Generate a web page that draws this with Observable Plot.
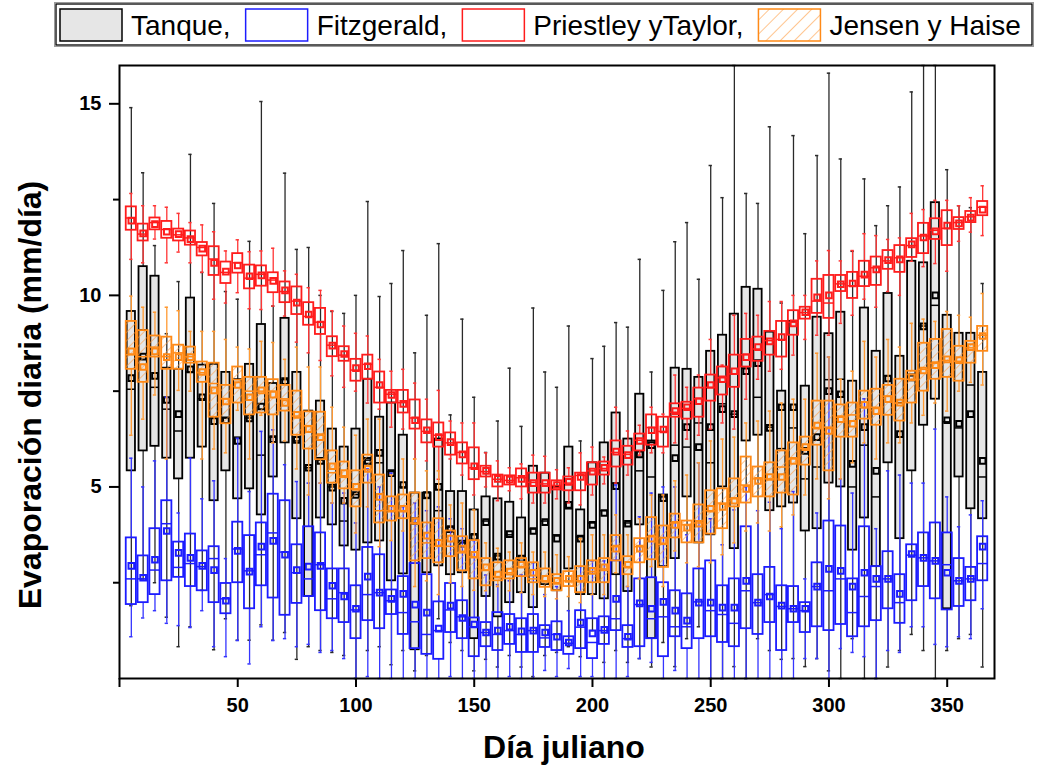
<!DOCTYPE html>
<html>
<head>
<meta charset="utf-8">
<script src="https://cdn.jsdelivr.net/npm/d3@7"></script>
<script src="https://cdn.jsdelivr.net/npm/@observablehq/plot@0.6"></script>
<style>
  body { margin: 0; background: #fff; }
</style>
</head>
<body>
<div id="chart"></div>
<script>
// Julian day of each group (one box per series every 5 days)
const days = [5,10,15,20,25,30,35,40,45,50,55,60,65,70,75,80,85,90,95,100,
  105,110,115,120,125,130,135,140,145,150,155,160,165,170,175,180,185,190,195,200,
  205,210,215,220,225,230,235,240,245,250,255,260,265,270,275,280,285,290,295,300,
  305,310,315,320,325,330,335,340,345,350,355,360,365];

const legendNames = ["Tanque,", "Fitzgerald,", "Priestley yTaylor,", "Jensen y Haise"];

// Tanque (pan evaporation), mm/day
const tanqueHi = [14.9,13.2,11.3,9.0,10.36,13.68,10.6,12.4,10.1,9.9,11.41,15.06,9.72,13.19,11.2,11.25,10.0,9.58,9.53,10.0,
  12.45,9.97,10.31,11.17,8.5,9.48,11.35,6.88,9.38,7.34,5.9,6.72,8.1,6.58,9.67,8.0,7.6,9.2,6.2,8.35,
  8.67,9.29,9.17,10.94,8.0,10.13,11.4,11.9,10.42,13.39,12.55,17,12.66,12.4,14.4,9.8,14.17,11.61,13.65,15.8,
  13.56,11.15,13.04,11.82,12.34,12.83,15.31,17,17,13.28,12.34,12.29,10.31];
const tanqueQ3 = [9.58,10.75,10.5,8.1,8.07,9.93,8.18,8.2,7.99,7.8,8.2,9.24,7.7,9.4,7.99,6.98,7.24,6.51,6.04,6.51,
  7.81,6.82,7.19,6.35,4.84,4.84,6.25,4.88,4.88,4.4,4.74,4.69,4.6,4.19,5.54,5.36,5.0,6.04,4.4,5.63,
  6.15,6.93,6.25,7.42,6.2,4.79,8.1,8.07,7.86,8.54,8.96,9.51,10.21,10.16,9.04,7.5,9.32,7.63,9.43,9.0,
  9.56,7.76,9.67,8.54,10.05,8.41,10.89,10.85,12.42,9.48,9.01,9.01,7.99];
const tanqueMed = [7.55,9.1,7.6,7.03,6.46,8.0,7.3,6.8,6.8,6.3,6.8,5.83,6.3,7.8,6.2,5.5,5.7,5.0,4.11,4.8,
  5.7,5.63,5.4,5.0,4.06,4.7,4.38,3.95,3.54,3.75,4.11,3.2,3.75,3.13,3.9,4.11,3.75,4.43,3.7,4.06,
  4.38,5.1,4.06,5.42,5.26,4.74,6.09,6.04,6.67,5.63,7.17,6.9,8.1,7.34,6.56,6.0,6.54,5.21,5.52,7.8,
  7.81,5.0,6.09,4.74,7.9,7.2,7.9,9.2,9.74,6.7,6.54,7.66,5.26];
const tanqueMean = [7.84,8.4,7.9,7.27,6.9,8.07,7.34,6.72,6.74,6.2,6.79,7.1,6.25,7.76,6.23,5.5,5.68,4.98,4.64,4.79,
  5.68,5.89,5.36,5.05,4.11,4.79,5.0,3.9,3.52,3.7,4.08,3.18,3.77,3.13,3.85,4.08,3.65,4.53,3.65,4.01,
  4.32,5.02,4.04,5.85,6.09,4.71,5.75,6.56,6.04,6.56,7.03,6.9,8.02,8.23,6.54,7.08,7.08,5.94,6.3,7.5,
  7.42,5.6,6.56,5.42,7.83,6.38,7.86,9.19,10.0,6.74,6.65,6.9,5.68];
const tanqueQ1 = [5.42,5.94,6.06,5.75,5.21,5.75,6.04,4.64,5.42,4.69,4.95,4.27,5.26,6.15,4.17,2.14,4.19,4.01,3.46,3.35,
  3.54,3.59,2.55,2.73,0.75,2.76,2.94,2.71,2.76,1.04,2.14,1.61,1.98,2.24,1.85,2.45,2.29,2.86,2.19,2.19,
  2.08,2.71,2.27,4.01,1.04,2.92,3.13,4.74,3.54,3.75,5.0,3.39,6.2,6.35,4.38,4.48,4.58,3.85,3.91,5.1,
  5.0,3.35,4.19,2.92,5.63,3.65,5.42,6.61,7.29,1.82,5.26,4.43,4.17];
const tanqueLo = [1.9,2.6,2.5,1.6,0.83,1.35,2.3,0.75,1.56,1.0,1.0,1.4,1.0,1.2,0.5,0.83,0.73,0.68,0.6,0.0,
  0.73,0.83,0.36,0.73,0.2,0.6,1.56,0.94,0.73,0.2,0.5,0.3,0.6,0.3,0.05,0.6,0.68,0.83,0.57,1.25,
  0.42,0.73,0.42,0.52,0.3,0.94,0.31,1.04,1.35,0.0,0.0,0.31,0.0,1.04,0.73,0.5,0.52,0.31,0.52,0.2,
  0.0,1.04,0.0,0.0,0.3,0.73,1.15,0.73,0.0,0.73,1.04,1.15,0.3];

// Fitzgerald
const fitzHi = [5.75,5.0,5.68,7.34,4.32,5.75,4.69,5.16,3.13,6.27,4.88,6.45,6.49,5.58,5.14,5.1,5.1,4.58,4.84,4.06,
  5.47,5.0,5.36,4.48,4.58,4.38,4.48,4.17,3.91,3.6,2.7,2.45,2.55,2.71,3.02,2.19,2.4,1.77,2.92,3.07,
  3.07,5.05,2.4,4.22,4.84,5.0,5.0,3.75,5.63,4.17,3.49,4.4,5.0,4.38,4.6,3.91,4.88,2.6,4.32,8.39,
  5.21,4.84,7.3,3.91,5.42,5.31,5.1,5.1,6.51,4.74,3.96,4.27,4.64];
const fitzQ3 = [3.67,3.2,3.91,4.64,3.56,3.77,3.33,3.44,2.48,4.08,3.73,4.06,4.81,4.64,3.49,3.96,3.8,2.86,2.86,2.42,
  3.42,3.23,2.31,2.66,3.0,2.71,2.0,2.48,2.03,1.58,1.46,1.72,1.67,1.56,1.67,1.38,1.48,1.09,1.77,1.56,
  1.61,3.07,1.38,2.6,2.63,2.5,2.29,2.21,2.86,3.07,2.42,2.6,3.96,2.71,2.9,2.42,2.4,1.98,3.02,4.11,
  3.98,2.6,3.96,2.92,3.31,2.71,3.49,3.8,4.06,3.8,3.13,2.9,3.7];
const fitzMed = [2.6,2.6,2.83,4.04,2.9,3.0,2.92,3.13,2.08,3.38,2.81,3.23,3.8,3.3,2.76,2.6,2.97,2.08,2.24,1.79,
  2.19,2.24,2.03,1.72,1.48,1.15,1.25,1.79,1.61,1.35,1.2,1.15,1.25,1.15,1.25,1.06,1.15,0.92,1.34,0.94,
  1.25,1.56,1.04,1.93,1.56,1.61,1.35,1.35,2.0,1.77,1.67,1.44,2.29,1.98,2.19,1.88,1.82,1.77,2.4,2.29,
  2.6,1.72,2.14,2.4,2.6,1.98,3.22,3.15,3.07,2.97,2.55,2.6,3.0];
const fitzMean = [2.94,2.63,3.1,3.85,3.28,3.15,2.94,2.83,2.03,3.33,2.79,3.44,3.59,3.23,2.83,2.92,2.94,2.42,2.14,1.82,
  2.66,2.24,2.08,2.21,1.93,1.72,1.3,1.9,1.58,1.41,1.2,1.25,1.35,1.23,1.25,1.2,1.09,0.94,1.46,1.18,
  1.27,2.08,1.09,1.96,1.82,2.0,1.77,1.51,1.98,1.98,1.85,1.85,2.55,1.98,2.14,1.9,1.82,1.82,2.4,2.86,
  2.81,2.4,2.76,2.6,2.6,2.21,3.25,3.15,3.07,2.76,2.55,2.6,3.44];
const fitzQ1 = [1.93,1.98,2.19,2.55,2.64,2.4,2.29,1.98,1.69,2.5,1.82,2.42,2.1,1.65,1.96,2.14,1.77,1.56,1.46,1.04,
  1.51,1.3,1.67,1.15,0.78,0.63,0.5,1.2,1.04,0.57,0.83,0.73,0.89,0.68,0.68,0.81,0.73,0.63,0.78,0.52,
  0.89,1.25,0.81,0.83,1.04,0.57,1.09,0.78,1.04,1.09,0.94,0.83,1.3,1.15,1.46,0.73,1.46,1.2,1.35,1.25,
  1.41,1.09,1.35,1.51,1.82,1.44,2.03,2.4,2.08,1.79,1.88,2.03,2.55];
const fitzLo = [1.09,1.58,1.77,1.44,1.38,1.33,1.77,0.83,0.57,0.99,0.38,1.35,0.99,1.04,0.83,0.89,0.68,0.73,0.52,0.0,
  0.05,0.0,0.0,0.0,0.0,0.0,0.0,0.05,0.0,0.0,0.0,0.0,0.05,0.0,0.0,0.21,0.05,0.26,0.05,0.05,
  0.0,0.0,0.05,0.52,0.42,0.0,0.21,0.0,0.0,0.0,0.0,0.0,0.0,0.0,0.0,0.0,0.0,0.52,0.52,0.0,
  0.78,0.68,0.57,0.0,0.73,0.68,1.35,1.35,0.89,0.83,1.09,1.04,1.82];

// Priestley y Taylor
const ptHi = [12.66,12.34,12.34,12.3,12.14,11.9,11.84,11.66,11.16,11.45,11.14,11.16,11.23,10.64,10.55,10.2,10.13,9.6,9.2,9.01,
  8.94,8.33,8.02,8.07,7.71,7.29,7.52,6.72,6.67,6.67,5.89,5.68,5.5,5.6,5.83,5.8,5.45,5.5,5.89,6.04,
  5.78,7.08,6.46,6.61,7.08,6.9,7.92,7.6,7.92,8.85,8.18,9.48,9.53,9.48,9.84,9.84,10.0,10.0,10.9,11.17,
  10.9,11.17,11.61,11.56,11.46,11.5,12.14,12.24,12.48,12.48,12.34,12.55,12.86];
const ptQ3 = [12.31,11.86,12.02,11.93,11.73,11.68,11.38,11.27,10.87,11.09,10.79,10.77,10.59,10.35,10.22,9.81,9.66,8.92,8.66,8.33,
  8.44,8.0,7.52,7.52,7.27,6.75,6.67,6.41,6.15,6.02,5.54,5.31,5.29,5.47,5.36,5.36,5.16,5.26,5.36,5.63,
  5.65,6.2,6.06,6.38,6.88,6.82,7.17,7.21,7.58,7.92,8.13,8.44,8.85,8.91,9.06,9.32,9.6,9.69,10.42,10.52,
  10.52,10.6,10.89,11.0,11.17,11.3,11.48,11.88,12.0,12.21,12.03,12.19,12.45];
const ptMed = [12.02,11.6,11.9,11.72,11.58,11.5,11.25,10.95,10.6,10.85,10.45,10.55,10.4,10.1,9.85,9.45,9.3,8.7,8.44,8.05,
  8.2,7.6,7.42,7.2,6.8,6.45,6.35,6.15,5.9,5.5,5.4,5.2,5.17,5.24,5.12,5.08,5.04,5.1,5.3,5.42,
  5.48,5.9,5.85,6.22,6.55,6.45,6.95,7.05,7.3,7.6,7.85,7.95,8.45,8.6,8.82,8.85,9.3,9.55,9.85,9.8,
  10.3,10.25,10.5,10.72,10.9,10.98,11.3,11.55,11.7,11.75,11.9,12.05,12.3];
const ptMean = [11.95,11.62,11.86,11.66,11.6,11.47,11.22,10.85,10.62,10.78,10.5,10.52,10.38,10.13,9.81,9.5,9.24,8.69,8.47,8.1,
  8.15,7.66,7.4,7.17,6.74,6.48,6.3,6.17,5.85,5.54,5.42,5.21,5.19,5.21,5.1,5.1,5.05,5.13,5.26,5.4,
  5.5,5.92,5.83,6.2,6.48,6.5,6.98,7.08,7.24,7.66,7.81,8.02,8.39,8.65,8.8,8.91,9.27,9.56,9.95,10.0,
  10.29,10.31,10.54,10.68,10.92,10.94,11.33,11.51,11.67,11.82,11.88,12.03,12.24];
const ptQ1 = [11.7,11.42,11.71,11.49,11.42,11.31,11.03,10.52,10.31,10.58,10.17,10.24,10.07,9.81,9.5,9.22,8.98,8.4,8.28,7.76,
  7.81,7.19,7.19,6.93,6.51,6.15,6.04,5.83,5.6,5.19,5.26,5.0,5.05,5.0,4.84,4.84,4.92,4.9,4.9,5.05,
  5.31,5.52,5.57,5.94,6.09,6.04,6.82,6.77,6.82,7.24,7.4,7.6,8.13,8.28,8.44,8.39,8.96,9.38,9.53,9.4,
  10.1,9.92,10.23,10.26,10.68,10.6,10.99,11.09,11.46,11.3,11.72,11.9,12.08];
const ptLo = [10.94,10.85,11.47,10.85,11.13,10.85,10.6,9.9,9.8,10.07,9.65,9.63,9.72,9.46,8.78,8.5,8.3,7.9,7.6,7.5,
  7.19,7.03,6.56,6.51,5.73,5.68,5.2,5.73,5.31,4.79,5.0,4.64,4.9,4.69,4.58,4.58,4.69,4.58,4.53,4.79,
  5.08,5.1,5.31,5.83,5.89,5.89,6.15,6.25,6.35,6.51,6.67,6.51,7.29,7.81,8.02,8.07,8.44,8.85,8.96,8.96,
  9.27,9.48,9.9,9.69,10.1,10.0,10.89,10.75,10.83,10.63,11.41,11.65,11.56];

// Jensen y Haise
const jhHi = [9.98,9.69,9.56,9.69,9.6,9.06,9.06,9.06,8.85,8.65,8.6,8.8,8.77,8.33,8.65,8.13,8.13,7.08,6.56,6.35,
  6.77,6.77,5.31,5.73,5.73,5.42,5.42,4.53,4.58,4.4,3.54,3.4,3.3,3.54,3.3,3.3,3.23,3.18,3.65,3.75,
  3.75,4.27,3.75,4.17,4.79,4.79,5.16,5.31,5.63,6.2,6.25,6.3,6.67,6.72,6.98,7.19,7.29,7.29,8.49,8.39,
  7.81,8.02,8.8,8.39,8.85,8.65,9.27,9.38,9.32,9.58,9.48,9.43,10.05];
const jhQ3 = [9.32,9.08,8.94,8.91,8.7,8.65,8.26,8.23,7.65,8.13,7.86,7.86,7.8,7.65,7.5,6.96,6.95,5.94,5.65,5.42,
  5.83,5.31,4.74,4.79,4.84,4.06,4.17,3.85,3.7,3.6,3.13,3.02,3.07,3.13,3.02,2.86,2.71,2.79,2.92,3.07,
  3.13,3.73,3.18,3.65,4.2,3.98,4.29,4.11,4.53,4.9,4.95,5.21,5.78,5.52,5.63,5.94,6.15,6.3,7.24,7.24,
  7.14,7.19,7.5,7.55,7.65,7.81,8.02,8.75,8.85,9.11,8.67,8.8,9.19];
const jhMed = [8.45,8.4,8.65,8.4,8.5,8.4,7.98,7.7,7.3,7.8,7.5,7.5,7.5,7.3,6.85,6.6,6.35,5.37,5.25,4.95,
  5.45,4.38,4.38,4.38,4.06,3.54,3.45,3.45,3.28,3.18,2.83,2.66,2.76,2.92,2.6,2.55,2.5,2.55,2.55,2.79,
  2.86,3.44,2.92,3.44,3.7,3.5,4.06,4.01,4.06,4.38,4.58,4.69,5.05,5.21,5.21,5.52,5.73,6.0,6.55,6.56,
  6.82,6.88,7.08,7.08,7.37,7.19,7.81,8.07,8.23,8.3,8.28,8.63,8.96];
const jhMean = [8.54,8.13,8.54,8.39,8.39,8.39,8.0,7.52,7.23,7.66,7.34,7.52,7.41,7.19,6.88,6.51,6.3,5.54,5.36,5.0,
  5.47,4.74,4.43,4.43,4.11,3.73,3.54,3.65,3.39,3.23,2.9,2.71,2.79,2.97,2.76,2.6,2.55,2.6,2.6,2.81,
  2.9,3.39,2.97,3.39,3.65,3.6,4.01,3.94,4.04,4.43,4.48,4.64,4.95,5.16,5.26,5.26,5.68,6.04,6.6,6.46,
  6.77,6.65,7.14,6.98,7.29,7.2,7.86,8.04,8.18,8.33,8.31,8.65,8.94];
const jhQ1 = [8.07,7.73,8.39,8.07,8.07,8.23,7.73,6.82,6.65,7.19,6.88,6.93,6.88,6.98,6.35,5.99,5.71,5.1,4.95,4.48,
  5.1,4.06,4.11,4.17,3.07,3.13,3.02,3.18,2.81,2.6,2.42,2.55,2.6,2.66,2.5,2.38,2.29,2.4,2.24,2.5,
  2.5,3.07,2.71,3.02,3.1,2.9,3.67,3.54,3.54,3.77,3.91,4.48,4.58,4.74,4.74,4.84,4.79,5.57,6.09,5.42,
  6.3,6.3,6.77,6.61,6.87,6.72,7.19,7.5,7.81,7.86,7.76,8.23,8.54];
const jhLo = [6.35,6.77,7.4,5.73,7.52,7.5,5.73,5.99,5.89,7.0,5.73,6.87,6.15,6.2,5.47,4.79,5.1,4.58,4.58,3.8,
  4.48,3.44,3.6,3.85,2.4,2.55,2.19,2.5,2.4,2.3,2.29,2.4,2.29,2.24,2.19,2.14,2.08,2.14,1.98,2.19,
  2.19,2.76,2.4,2.6,2.92,2.4,3.33,3.02,2.92,3.02,3.23,3.54,3.85,4.06,3.85,3.96,4.27,4.79,5.21,4.69,
  5.21,5.63,6.15,5.73,6.15,6.15,6.67,6.87,7.19,6.98,7.5,7.73,7.66];

const xTicks = [0, 50, 100, 150, 200, 250, 300, 350];
const yTicks = [5, 10, 15];
const yMinorTicks = [2.5, 7.5, 12.5];

// one row per box: five-number summary plus mean
const rows = (lo, q1, med, mean, q3, hi) =>
  days.map((day, i) => ({day, lo: lo[i], q1: q1[i], med: med[i], mean: mean[i], q3: q3[i], hi: hi[i]}));

const series = [
  {label: legendNames[0], rows: rows(tanqueLo, tanqueQ1, tanqueMed, tanqueMean, tanqueQ3, tanqueHi),
   stroke: "#000000", whisker: "#2a2a2a", fill: "#e6e6e6", swatch: "#e6e6e6", half: 1.75},
  {label: legendNames[1], rows: rows(fitzLo, fitzQ1, fitzMed, fitzMean, fitzQ3, fitzHi),
   stroke: "#1c1cff", whisker: "#3535ff", fill: "none", swatch: "#ffffff", half: 2.15},
  {label: legendNames[2], rows: rows(ptLo, ptQ1, ptMed, ptMean, ptQ3, ptHi),
   stroke: "#ff1c1c", whisker: "#ff3535", fill: "none", swatch: "#ffffff", half: 2.15},
  {label: legendNames[3], rows: rows(jhLo, jhQ1, jhMed, jhMean, jhQ3, jhHi),
   stroke: "#ff8a17", whisker: "#ff9a33", fill: "url(#jh-hatch)", swatch: "url(#jh-hatch-legend)", half: 2.15}
];

function boxplot(s) {
  const left = d => d.day - s.half, right = d => d.day + s.half;
  const capL = d => d.day - 0.7, capR = d => d.day + 0.7;
  return [
    Plot.ruleX(s.rows, {x: "day", y1: "lo", y2: "q1", stroke: s.whisker, strokeWidth: 1.3}),
    Plot.ruleX(s.rows, {x: "day", y1: "q3", y2: "hi", stroke: s.whisker, strokeWidth: 1.3}),
    Plot.ruleY(s.rows, {y: "lo", x1: capL, x2: capR, stroke: s.whisker, strokeWidth: 1.5}),
    Plot.ruleY(s.rows, {y: "hi", x1: capL, x2: capR, stroke: s.whisker, strokeWidth: 1.5}),
    Plot.rect(s.rows, {x1: left, x2: right, y1: "q1", y2: "q3", fill: s.fill, stroke: s.stroke, strokeWidth: 1.8}),
    Plot.ruleY(s.rows, {y: "med", x1: left, x2: right, stroke: s.stroke, strokeWidth: 1.5}),
    Plot.dot(s.rows, {x: "day", y: "mean", symbol: "square", r: 3.2, stroke: s.stroke, strokeWidth: 2, fill: "none"})
  ];
}

const FONT = "'Liberation Sans', Arial, Helvetica, sans-serif";

const chart = Plot.plot({
  width: 1037,
  height: 767,
  marginLeft: 119,
  marginRight: 43,
  marginTop: 65,
  marginBottom: 89,
  style: {fontFamily: FONT, fontSize: "20px", fontWeight: "bold", color: "#000", background: "#fff"},
  x: {domain: [0, 370]},
  y: {domain: [0, 16], clamp: true},
  marks: [
    ...series.flatMap(boxplot),
    Plot.axisY({ticks: yTicks, tickSize: 10, tickPadding: 8, tickFormat: d => String(d), label: null, strokeWidth: 2}),
    Plot.axisY({ticks: yMinorTicks, tickSize: 6, tickFormat: () => "", label: null, strokeWidth: 2}),
    Plot.axisX({ticks: xTicks, tickSize: 9, tickPadding: 10, tickFormat: d => d === 0 ? "" : String(d), label: null, strokeWidth: 2}),
    Plot.frame({stroke: "#000", strokeWidth: 2})
  ]
});

document.getElementById("chart").appendChild(chart);

const svg = d3.select(chart);

// diagonal hatching for the Jensen y Haise boxes
const defs = svg.insert("defs", ":first-child");
[["jh-hatch", 6], ["jh-hatch-legend", 10]].forEach(([id, step]) => {
  defs.append("pattern")
    .attr("id", id)
    .attr("patternUnits", "userSpaceOnUse")
    .attr("width", step).attr("height", step)
    .attr("patternTransform", "rotate(45)")
    .append("line")
    .attr("x1", 0).attr("y1", 0).attr("x2", 0).attr("y2", step)
    .attr("stroke", "#ff9d45").attr("stroke-width", 1.2);
});

// legend row above the frame
const lg = svg.append("g")
  .attr("font-family", FONT)
  .attr("font-size", 28)
  .attr("font-weight", "normal")
  .attr("text-anchor", "start")
  .attr("fill", "#000");
lg.append("rect").attr("x", 54.5).attr("y", 2.5).attr("width", 979).attr("height", 44)
  .attr("fill", "#fff").attr("stroke", "#9a9a9a").attr("stroke-width", 1);
lg.append("rect").attr("x", 56).attr("y", 4).attr("width", 976).attr("height", 41)
  .attr("fill", "none").attr("stroke", "#000").attr("stroke-width", 1.3);
let lx = 60;
series.forEach(s => {
  lg.append("rect").attr("x", lx).attr("y", 9).attr("width", 62).attr("height", 32)
    .attr("fill", s.swatch).attr("stroke", s.stroke).attr("stroke-width", 1.5);
  const t = lg.append("text").attr("x", lx + 71).attr("y", 35).attr("text-anchor", "start").text(s.label);
  lx = lx + 71 + t.node().getComputedTextLength() + 15;
});

// axis titles
svg.append("text")
  .attr("x", 564).attr("y", 758)
  .attr("text-anchor", "middle")
  .attr("font-family", FONT).attr("font-size", 32).attr("font-weight", "bold")
  .attr("fill", "#000")
  .text("Día juliano");
svg.append("text")
  .attr("transform", "translate(41,395) rotate(-90)")
  .attr("text-anchor", "middle")
  .attr("font-family", FONT).attr("font-size", 32).attr("font-weight", "bold")
  .attr("fill", "#000")
  .text("Evaporación diaria (mm/día)");
</script>
</body>
</html>
